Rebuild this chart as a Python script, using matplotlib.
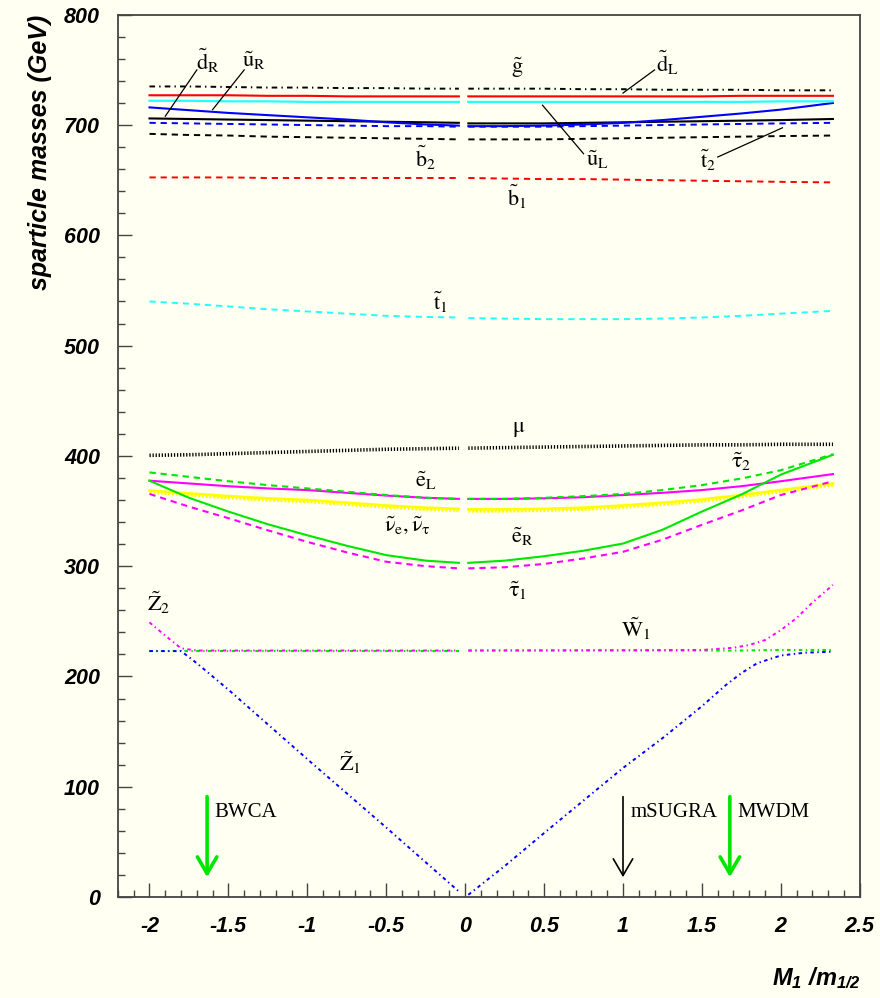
import matplotlib
matplotlib.use("Agg")
import matplotlib.pyplot as plt
from matplotlib.ticker import MultipleLocator

plt.rcParams["lines.scale_dashes"] = False
plt.rcParams["mathtext.fontset"] = "custom"
plt.rcParams["mathtext.rm"] = "Liberation Sans:bold:italic"
plt.rcParams["mathtext.it"] = "Liberation Sans:bold:italic"
plt.rcParams["mathtext.bf"] = "Liberation Sans:bold:italic"

BG = "#fffff2"
RED = "#ff0000"
CYAN = "#22ffff"
BLUE = "#0000ff"
GREEN = "#00e600"
MAGENTA = "#ff00ff"
YELLOW = "#ffff00"

# M1/m_1/2 grid, the curves are broken around zero
X_LEFT = [-2.0, -1.75, -1.5, -1.25, -1.0, -0.75, -0.5, -0.25, -0.04]
X_RIGHT = [0.02, 0.25, 0.5, 0.75, 1.0, 1.25, 1.5, 1.75, 2.0, 2.33]

GLUINO_L = [735, 735, 734.5, 734, 734, 733.5, 733.5, 733, 733]
GLUINO_R = [733, 733, 733, 732.5, 732.5, 732, 732, 732, 731.5, 731.5]
DL_L = [727, 727, 727, 726.5, 726.5, 726, 726, 726, 726]
DL_R = [726, 726, 726, 726, 726, 726, 726, 726.5, 726.5, 726.5]
UL_L = [722, 722, 721.5, 721.5, 721, 721, 721, 721, 721]
UL_R = [721, 721, 721, 721, 721, 721, 721, 721, 721.5, 721.5]
UR_L = [716, 713.5, 711, 709, 707, 705, 702.5, 700.5, 699.5]
UR_R = [699, 699, 699.5, 700.5, 702, 704.5, 707.5, 710.5, 714, 720]
DR_L = [706, 705.5, 705, 704.5, 704, 703.5, 703, 702.5, 702]
DR_R = [701.5, 701.5, 701.5, 702, 702.5, 703, 703.5, 704, 704.5, 705.5]
T2_L = [702, 701.5, 701, 700.5, 700, 699.5, 699, 699, 698.5]
T2_R = [698.5, 698.5, 698.5, 699, 699.5, 700, 700.5, 701, 701.5, 702]
B2_L = [692, 691, 690.5, 689.5, 689, 688.5, 688, 687.5, 687]
B2_R = [687, 687, 687, 687.5, 688, 688.5, 689, 689.5, 690, 690.5]
B1_L = [652.5, 652.5, 652.5, 652, 652, 652, 652, 652, 652]
B1_R = [652, 651.5, 651, 651, 650.5, 650, 649.5, 649, 648.5, 648]
T1_L = [540, 538, 535.5, 533, 531, 529, 527, 526, 525.5]
T1_R = [525, 524.5, 524, 524, 524, 524.5, 525.5, 527, 529, 531.5]
MU_L = [400.5, 401, 402, 403, 404, 405, 406, 406.5, 407]
MU_R = [407, 407.5, 408, 408.5, 409, 409.5, 410, 410, 410.5, 410.5]
EL_L = [377.5, 375, 372.5, 370.5, 369, 366.5, 364, 362, 361]
EL_R = [361, 361, 361.5, 362.5, 364.5, 366.5, 369, 372.5, 377, 383.5]
TAU2_L = [385, 381, 377, 373.5, 370.5, 367.5, 364.5, 362, 361]
TAU2_R = [361, 361, 362, 363.5, 365.5, 369, 373.5, 379.5, 387, 401.5]
SNU_L = [368.5, 366, 363.5, 361.5, 360, 357.5, 355, 353, 352]
SNU_R = [351.5, 351.5, 352, 353, 355, 357.5, 360.5, 364.5, 369, 375]
SNUTAU_L = [367, 364.5, 362, 360, 358.5, 356, 353.5, 351.5, 350.5]
SNUTAU_R = [350, 350, 350.5, 351.5, 353.5, 356, 359, 363, 367.5, 373.5]
ER_L = [377.5, 362, 349.5, 338, 328, 318.5, 310, 305, 303]
ER_R = [303, 305, 309, 314, 320.5, 333, 349.5, 365, 383, 401]
TAU1_L = [365.5, 354, 343.5, 332.5, 322, 312.5, 304, 300, 298]
TAU1_R = [298, 299, 302, 307, 313, 324, 337.5, 350.5, 364.5, 377]

W1_L = [223.5, 223.5, 223.5, 223.5, 223.5, 223.5, 223.5, 223.5, 223.5]
W1_R = [223.5, 223.5, 223.5, 223.5, 223.5, 223.5, 223.5, 223.5, 224, 224]

Z2_X_LEFT = [-2.0, -1.9, -1.8, -1.7, -0.04]
Z2_L = [249, 237, 225.5, 223.5, 223.5]
Z2_X_RIGHT = [0.02, 1.5, 1.7, 1.8, 1.9, 2.0, 2.1, 2.2, 2.33]
Z2_R = [223.5, 224, 226, 228.5, 233, 242, 253, 267, 283]

Z1_X_LEFT = [-2.0, -1.8, -1.7, -1.5, -1.0, -0.5, -0.04]
Z1_L = [223, 223, 212, 188, 125, 63, 5]
Z1_X_RIGHT = [0.02, 0.25, 0.5, 1.0, 1.25, 1.5, 1.65, 1.75, 1.85, 2.0, 2.15, 2.33]
Z1_R = [2, 28, 58, 117, 144, 173, 192, 203, 212, 219, 221.5, 222.5]

LABELS = [
    (r"$\tilde{\mathrm{g}}$", 0.33, 752),
    (r"$\tilde{\mathrm{d}}_{\mathrm{L}}$", 1.28, 756),
    (r"$\tilde{\mathrm{d}}_{\mathrm{R}}$", -1.63, 758),
    (r"$\tilde{\mathrm{u}}_{\mathrm{R}}$", -1.34, 758),
    (r"$\tilde{\mathrm{b}}_{2}$", -0.25, 670),
    (r"$\tilde{\mathrm{u}}_{\mathrm{L}}$", 0.84, 668),
    (r"$\tilde{\mathrm{t}}_{2}$", 1.54, 668),
    (r"$\tilde{\mathrm{b}}_{1}$", 0.33, 635),
    (r"$\tilde{\mathrm{t}}_{1}$", -0.16, 539),
    (r"$\mathrm{\mu}$", 0.34, 424),
    (r"$\tilde{\mathrm{e}}_{\mathrm{L}}$", -0.25, 377),
    (r"$\tilde{\mathrm{\tau}}_{2}$", 1.75, 395),
    (r"$\tilde{\mathrm{\nu}}_{\mathrm{e}},\tilde{\mathrm{\nu}}_{\mathrm{\tau}}$", -0.37, 337),
    (r"$\tilde{\mathrm{e}}_{\mathrm{R}}$", 0.36, 327),
    (r"$\tilde{\mathrm{\tau}}_{1}$", 0.33, 278),
    (r"$\tilde{\mathrm{Z}}_{2}$", -1.94, 267),
    (r"$\tilde{\mathrm{W}}_{1}$", 1.08, 243),
    (r"$\tilde{\mathrm{Z}}_{1}$", -0.73, 122),
]

LEADERS = [
    ((1.20, 750), (1.0, 729)),
    ((-1.70, 750), (-1.90, 708)),
    ((-1.40, 750), (-1.60, 714)),
    ((0.75, 674), (0.49, 718)),
    ((1.60, 671), (2.01, 697.5)),
]

ARROW_X = [-1.635, 1.0, 1.677]
ARROW_TEXT = ["BWCA", "mSUGRA", "MWDM"]
ARROW_COLOR = [GREEN, "black", GREEN]

X_TICKS = [-2, -1.5, -1, -0.5, 0, 0.5, 1, 1.5, 2, 2.5]
X_TICK_LABELS = ["-2", "-1.5", "-1", "-0.5", "0", "0.5", "1", "1.5", "2", "2.5"]
Y_TICKS = [0, 100, 200, 300, 400, 500, 600, 700, 800]

DASHED = (0, (4.5, 3.5))
DASHDOT = (0, (4, 3, 1, 3))
DOTTED = (0, (0.9, 1.3))
SMALLDASHDOT = (0, (2.5, 2.5, 1, 2.5))

SERIES = [
    (GLUINO_L, GLUINO_R, "black", DASHDOT, 1.4),
    (B1_L, B1_R, RED, DASHED, 1.4),
    (B2_L, B2_R, "black", DASHED, 1.4),
    (T2_L, T2_R, BLUE, DASHED, 1.4),
    (DR_L, DR_R, "black", "-", 1.5),
    (UR_L, UR_R, BLUE, "-", 1.5),
    (UL_L, UL_R, CYAN, "-", 1.6),
    (DL_L, DL_R, RED, "-", 1.5),
    (T1_L, T1_R, CYAN, DASHED, 1.4),
    (MU_L, MU_R, "black", DOTTED, 2.6),
    (SNUTAU_L, SNUTAU_R, YELLOW, (0, (1.5, 1.2)), 2.2),
    (SNU_L, SNU_R, YELLOW, "-", 1.9),
    (EL_L, EL_R, MAGENTA, "-", 1.5),
    (TAU2_L, TAU2_R, GREEN, DASHED, 1.5),
    (TAU1_L, TAU1_R, MAGENTA, DASHED, 1.5),
    (ER_L, ER_R, GREEN, "-", 1.5),
    (W1_L, W1_R, GREEN, SMALLDASHDOT, 1.5),
]

fig = plt.figure(figsize=(8.8, 9.98), dpi=100, facecolor=BG)
ax = fig.add_axes([0.134, 0.1012, 0.843, 0.884])
ax.set_facecolor(BG)

for left, right, color, ls, lw in SERIES:
    ax.plot(X_LEFT, left, color=color, linestyle=ls, linewidth=lw)
    ax.plot(X_RIGHT, right, color=color, linestyle=ls, linewidth=lw)

ax.plot(Z2_X_LEFT, Z2_L, color=MAGENTA, linestyle=SMALLDASHDOT, linewidth=1.4)
ax.plot(Z2_X_RIGHT, Z2_R, color=MAGENTA, linestyle=SMALLDASHDOT, linewidth=1.4)
ax.plot(Z1_X_LEFT, Z1_L, color=BLUE, linestyle=SMALLDASHDOT, linewidth=1.4)
ax.plot(Z1_X_RIGHT, Z1_R, color=BLUE, linestyle=SMALLDASHDOT, linewidth=1.4)

for text, x, y in LABELS:
    ax.text(x, y, text, ha="center", va="center", fontsize=16, math_fontfamily="stix")

for (x0, y0), (x1, y1) in LEADERS:
    ax.plot([x0, x1], [y0, y1], color="black", linewidth=0.9)

for x, text, color in zip(ARROW_X, ARROW_TEXT, ARROW_COLOR):
    lw = 1.2 if color == "black" else 2.6
    ax.annotate("", xy=(x, 18), xytext=(x, 91),
                arrowprops=dict(arrowstyle="->,head_length=1.2,head_width=0.7",
                                color=color, lw=lw, shrinkA=0, shrinkB=0,
                                mutation_scale=10))
    ax.text(x + 0.045, 77, text, ha="left", va="center", fontsize=15,
            family="Liberation Serif")

ax.set_xlim(-2.2, 2.5)
ax.set_ylim(0, 800)
ax.set_xticks(X_TICKS)
ax.set_xticklabels(X_TICK_LABELS)
ax.set_yticks(Y_TICKS)
ax.set_yticklabels([str(v) for v in Y_TICKS])
ax.xaxis.set_minor_locator(MultipleLocator(0.1))
ax.yaxis.set_minor_locator(MultipleLocator(20))
ax.tick_params(which="both", direction="in", color="#444444", width=1.0,
               top=False, right=False)
ax.tick_params(which="major", length=10)
ax.tick_params(which="minor", length=5)
ax.tick_params(axis="y", pad=13)
ax.tick_params(axis="x", pad=14)
for lab in ax.get_xticklabels() + ax.get_yticklabels():
    lab.set_fontfamily("Liberation Sans")
    lab.set_fontweight("bold")
    lab.set_fontstyle("italic")
    lab.set_fontsize(15.5)
for sp in ax.spines.values():
    sp.set_color("#444444")
    sp.set_linewidth(1.3)

fig.text(0.045, 0.985, "sparticle masses (GeV)", rotation=90, ha="center", va="top",
         fontsize=18, family="Liberation Sans", fontweight="bold", fontstyle="italic")
fig.text(0.978, 0.013, r"$M_1\ /m_{1/2}$", ha="right", va="baseline", fontsize=17)

fig.savefig("out.png", facecolor=BG)
